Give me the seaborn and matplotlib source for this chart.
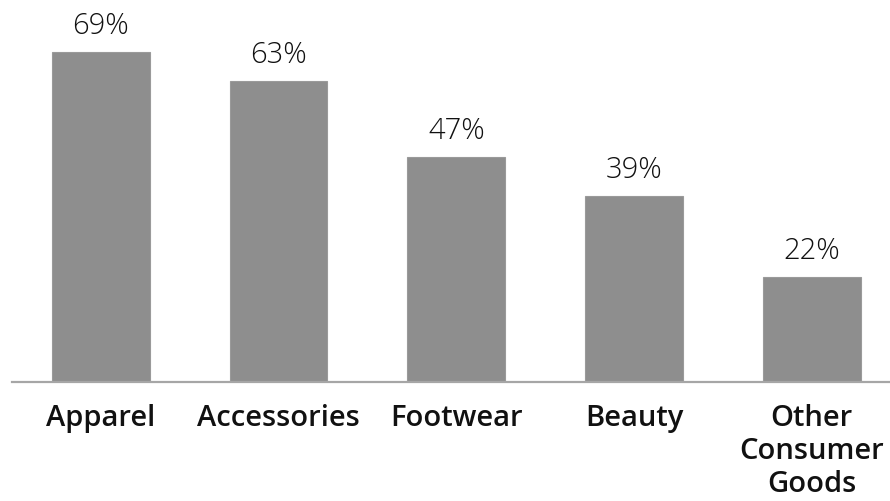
import matplotlib
matplotlib.use("Agg")
import matplotlib.pyplot as plt
import seaborn as sns
import pandas as pd

categories = ["Apparel", "Accessories", "Footwear", "Beauty", "Other\nConsumer\nGoods"]
shares = [69, 63, 47, 39, 22]
value_labels = ["69%", "63%", "47%", "39%", "22%"]

sns.set_theme(style="white")
plt.rcParams["font.family"] = ["Open Sans", "DejaVu Sans"]

df = pd.DataFrame({"category": categories, "share": shares})

fig = plt.figure(figsize=(8.9, 5.02), dpi=100)
ax = fig.add_axes([12 / 890, 119 / 502, 878 / 890, 383 / 502])

sns.barplot(data=df, x="category", y="share", color="#8e8e8e",
            saturation=1, width=0.55, ax=ax, edgecolor="#9a9a9a", linewidth=0.8)

ax.set_xlim(-0.5, 4.44)
ax.set_ylim(0, 80.1)

for i, (v, lab) in enumerate(zip(shares, value_labels)):
    ax.annotate(lab, (i, v), xytext=(0, 8.5), textcoords="offset points",
                ha="center", va="bottom", fontsize=21, color="#111111",
                fontweight="light")

ax.set_xlabel("")
ax.set_ylabel("")
ax.set_yticks([])
ax.tick_params(axis="x", length=0, pad=15)
for t in ax.get_xticklabels():
    t.set_fontsize(21)
    t.set_fontweight("semibold")
    t.set_color("#111111")
    t.set_verticalalignment("top")
    t.set_linespacing(1.18)

for s in ["top", "right", "left"]:
    ax.spines[s].set_visible(False)
ax.spines["bottom"].set_color("#a6a6a6")
ax.spines["bottom"].set_linewidth(1.6)

fig.savefig("out.png", dpi=100)
